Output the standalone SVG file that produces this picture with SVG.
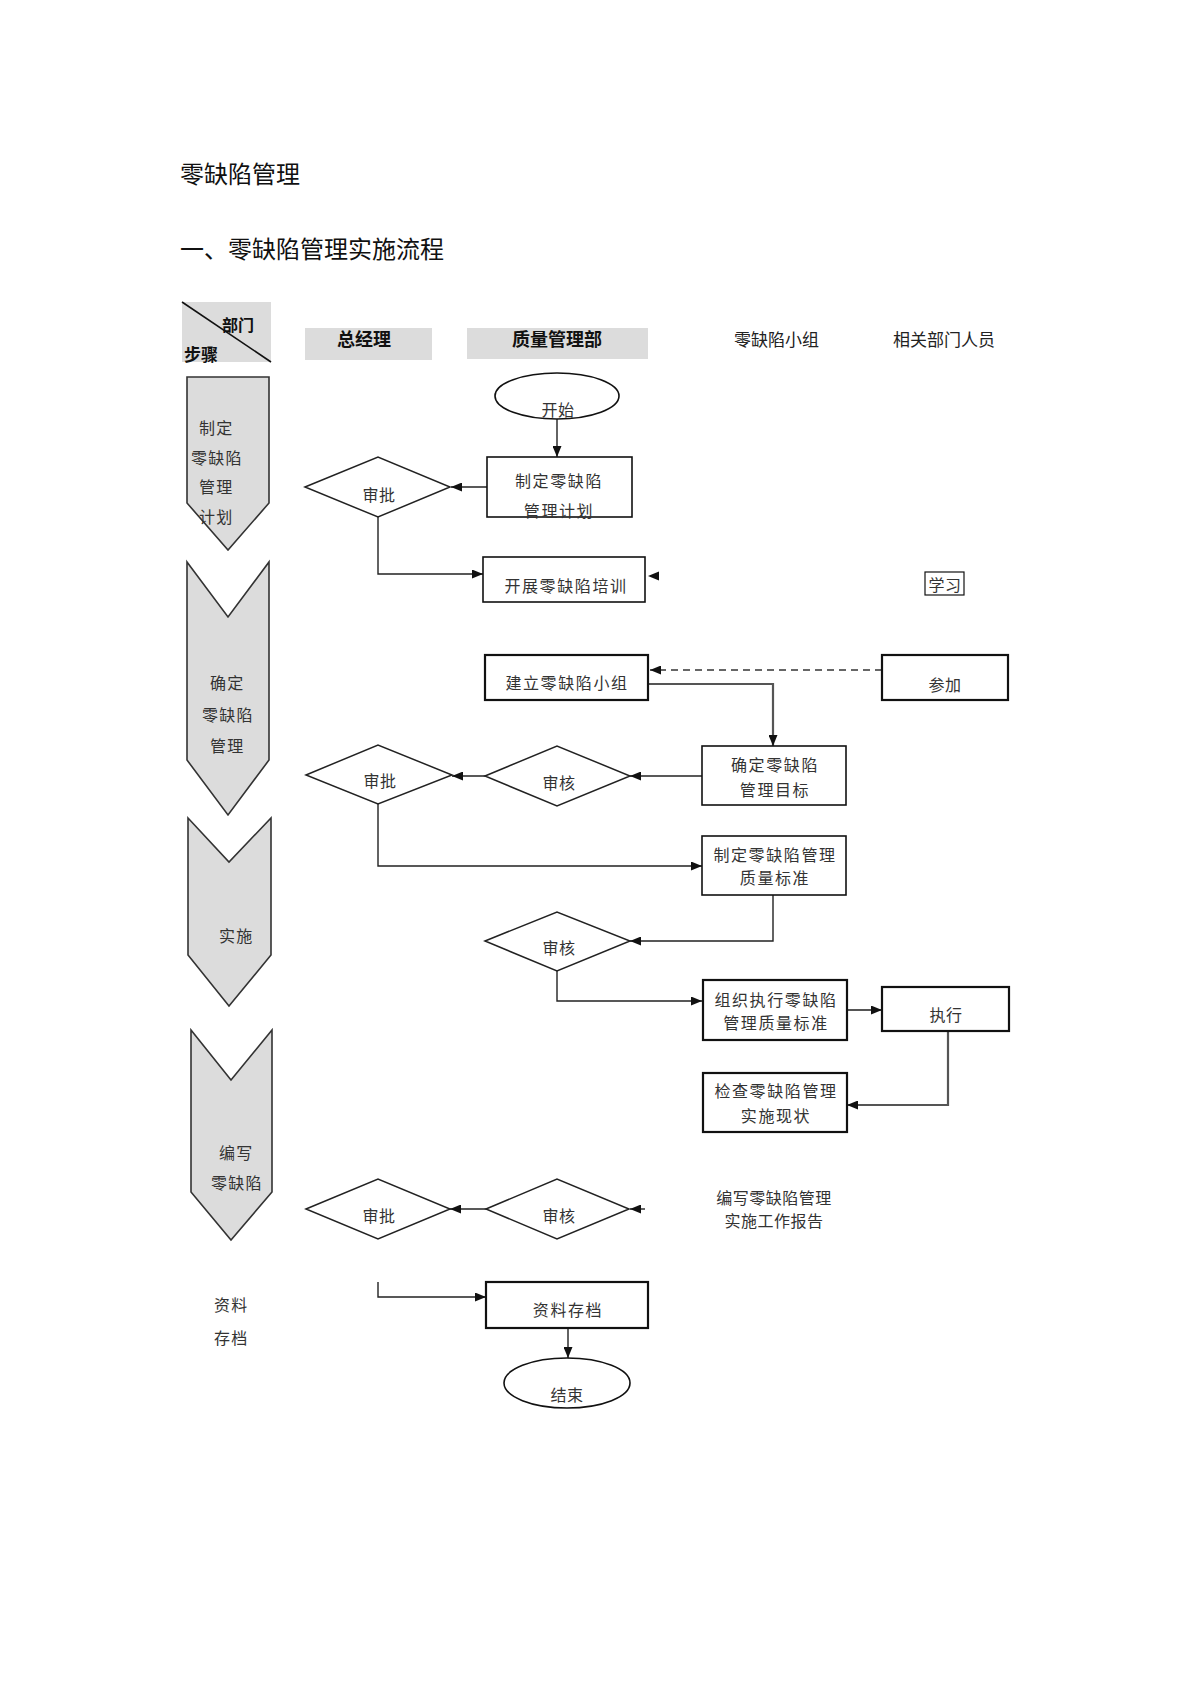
<svg xmlns="http://www.w3.org/2000/svg" width="1190" height="1683" viewBox="0 0 1190 1683">
<defs>
<style>
text{font-family:"Noto Sans CJK SC","Liberation Sans",sans-serif;fill:#222}
.t{font-size:24px;fill:#111}
.hd{font-size:17px;font-weight:bold;fill:#111}
.hn{font-size:17px;fill:#222}
.st{font-size:16px;letter-spacing:1.2px;fill:#333}
.bx{font-size:16px;letter-spacing:1.6px;fill:#333;text-anchor:middle}
.dt{font-size:16px;letter-spacing:0.5px;fill:#333;text-anchor:middle}
.box{fill:#fff;stroke:#111;stroke-width:1.6}
.box2{fill:#fff;stroke:#111;stroke-width:2.2}
.dia{fill:#fff;stroke:#222;stroke-width:1.5}
.chev{fill:#dcdcdc;stroke:#333;stroke-width:1.6}
.grey{fill:#dcdcdc}
.ln{fill:none;stroke:#222;stroke-width:1.4}
.ln2{fill:none;stroke:#555;stroke-width:2.2}
.dash{fill:none;stroke:#666;stroke-width:2;stroke-dasharray:7,5}
</style>
<marker id="ah" markerUnits="userSpaceOnUse" markerWidth="11" markerHeight="9" refX="11" refY="4.5" orient="auto">
<path d="M0,0 L11,4.5 L0,9 z" fill="#111"/>
</marker>
</defs>
<rect width="1190" height="1683" fill="#fff"/>

<g id="titles">
<text class="t" x="180" y="183">零缺陷管理</text>
<text class="t" x="180" y="258">一、零缺陷管理实施流程</text>
</g>

<g id="header">
<rect class="grey" x="182" y="302" width="89" height="60"/>
<line x1="182" y1="302" x2="271" y2="362" stroke="#111" stroke-width="1.6"/>
<text class="hd" x="222" y="331" style="font-size:16px">部门</text>
<text class="hd" x="184" y="361">步骤</text>
<rect class="grey" x="305" y="328" width="127" height="32"/>
<text class="hd" x="364" y="346" text-anchor="middle" style="font-size:18px">总经理</text>
<rect class="grey" x="467" y="328" width="181" height="31"/>
<text class="hd" x="557" y="346" text-anchor="middle" style="font-size:18px">质量管理部</text>
<text class="hn" x="734" y="346">零缺陷小组</text>
<text class="hn" x="893" y="346">相关部门人员</text>
</g>

<g id="stages">
<g id="stage1">
<polygon class="chev" points="187,377 269,377 269,503 228,550 187,503"/>
<text class="st" x="199" y="434">制定</text>
<text class="st" x="191" y="464">零缺陷</text>
<text class="st" x="199" y="493">管理</text>
<text class="st" x="199" y="523">计划</text>
</g>
<g id="stage2">
<polygon class="chev" points="187,562 228,617 269,562 269,760 228,815 187,760"/>
<text class="st" x="210" y="689">确定</text>
<text class="st" x="202" y="721">零缺陷</text>
<text class="st" x="210" y="752">管理</text>
</g>
<g id="stage3">
<polygon class="chev" points="188,818 229,862 271,818 271,955 229,1006 188,955"/>
<text class="st" x="219" y="942">实施</text>
</g>
<g id="stage4">
<polygon class="chev" points="191,1030 231,1080 272,1030 272,1192 231,1240 191,1192"/>
<text class="st" x="219" y="1159">编写</text>
<text class="st" x="211" y="1189">零缺陷</text>
</g>
<g id="stage5">
<text class="st" x="214" y="1311">资料</text>
<text class="st" x="214" y="1344">存档</text>
</g>
</g>

<g id="connectors">
<line class="ln" x1="557" y1="419" x2="557" y2="457" marker-end="url(#ah)"/>
<line class="ln" x1="487" y1="487" x2="451" y2="487" marker-end="url(#ah)"/>
<polyline class="ln" points="378,517 378,574 483,574" marker-end="url(#ah)"/>
<path d="M648,576 L659,571.5 L659,580.5 z" fill="#111"/>
<line class="dash" x1="882" y1="670" x2="650" y2="670" marker-end="url(#ah)"/>
<polyline class="ln2" points="648,684 773,684 773,746" marker-end="url(#ah)"/>
<line class="ln" x1="702" y1="776" x2="630" y2="776" marker-end="url(#ah)"/>
<line class="ln" x1="485" y1="776" x2="452" y2="776" marker-end="url(#ah)"/>
<polyline class="ln" points="378,804 378,866 702,866" marker-end="url(#ah)"/>
<polyline class="ln" points="773,895 773,941 630,941" marker-end="url(#ah)"/>
<polyline class="ln" points="557,971 557,1001 702,1001" marker-end="url(#ah)"/>
<line class="ln2" x1="847" y1="1010" x2="882" y2="1010" marker-end="url(#ah)"/>
<polyline class="ln2" points="948,1031 948,1105 847,1105" marker-end="url(#ah)"/>
<line class="ln" x1="486" y1="1209" x2="450" y2="1209" marker-end="url(#ah)"/>
<line class="ln" x1="645" y1="1209" x2="630" y2="1209" marker-end="url(#ah)"/>
<polyline class="ln" points="378,1282 378,1297 486,1297" marker-end="url(#ah)"/>
<line class="ln" x1="568" y1="1328" x2="568" y2="1358" marker-end="url(#ah)"/>
</g>

<g id="n_start">
<ellipse cx="557" cy="396" rx="62" ry="23" fill="#fff" stroke="#111" stroke-width="1.6"/>
<text class="dt" x="558" y="416">开始</text>
</g>
<g id="n_plan">
<rect class="box" x="487" y="457" width="145" height="60"/>
<text class="bx" x="559" y="487">制定零缺陷</text>
<text class="bx" x="559" y="517">管理计划</text>
</g>
<g id="n_approve1">
<polygon class="dia" points="305,487 378,457 450,487 378,517"/>
<text class="dt" x="379" y="501">审批</text>
</g>
<g id="n_training">
<rect class="box" x="483" y="557" width="162" height="45"/>
<text class="bx" x="566" y="592">开展零缺陷培训</text>
</g>
<g id="n_study">
<rect x="925" y="572" width="39" height="23" fill="#fff" stroke="#111" stroke-width="1.2"/>
<text class="dt" x="945" y="591">学习</text>
</g>
<g id="n_team">
<rect class="box2" x="485" y="655" width="163" height="45"/>
<text class="bx" x="567" y="689">建立零缺陷小组</text>
</g>
<g id="n_join">
<rect class="box2" x="882" y="655" width="126" height="45"/>
<text class="dt" x="945" y="691">参加</text>
</g>
<g id="n_goal">
<rect class="box" x="702" y="746" width="144" height="59"/>
<text class="bx" x="775" y="771">确定零缺陷</text>
<text class="bx" x="775" y="796">管理目标</text>
</g>
<g id="n_review1">
<polygon class="dia" points="485,776 557,746 630,776 557,806"/>
<text class="dt" x="559" y="789">审核</text>
</g>
<g id="n_approve2">
<polygon class="dia" points="306,775 378,745 452,775 378,804"/>
<text class="dt" x="380" y="787">审批</text>
</g>
<g id="n_standard">
<rect class="box" x="702" y="836" width="144" height="59"/>
<text class="bx" x="775" y="861">制定零缺陷管理</text>
<text class="bx" x="775" y="884">质量标准</text>
</g>
<g id="n_review2">
<polygon class="dia" points="485,941 557,912 630,941 557,971"/>
<text class="dt" x="559" y="954">审核</text>
</g>
<g id="n_organize">
<rect class="box2" x="703" y="980" width="144" height="60"/>
<text class="bx" x="776" y="1006">组织执行零缺陷</text>
<text class="bx" x="776" y="1029">管理质量标准</text>
</g>
<g id="n_execute">
<rect class="box2" x="882" y="987" width="127" height="44"/>
<text class="dt" x="946" y="1021">执行</text>
</g>
<g id="n_check">
<rect class="box2" x="703" y="1073" width="144" height="59"/>
<text class="bx" x="776" y="1097">检查零缺陷管理</text>
<text class="bx" x="776" y="1122">实施现状</text>
</g>
<g id="n_approve3">
<polygon class="dia" points="306,1209 378,1179 450,1209 378,1239"/>
<text class="dt" x="379" y="1222">审批</text>
</g>
<g id="n_review3">
<polygon class="dia" points="486,1209 557,1179 629,1209 557,1239"/>
<text class="dt" x="559" y="1222">审核</text>
</g>
<g id="n_report">
<text class="dt" x="774" y="1204">编写零缺陷管理</text>
<text class="dt" x="774" y="1227">实施工作报告</text>
</g>
<g id="n_archive">
<rect class="box2" x="486" y="1282" width="162" height="46"/>
<text class="bx" x="568" y="1316">资料存档</text>
</g>
<g id="n_end">
<ellipse cx="567" cy="1383" rx="63" ry="25" fill="#fff" stroke="#111" stroke-width="1.6"/>
<text class="dt" x="567" y="1401">结束</text>
</g>
</svg>
